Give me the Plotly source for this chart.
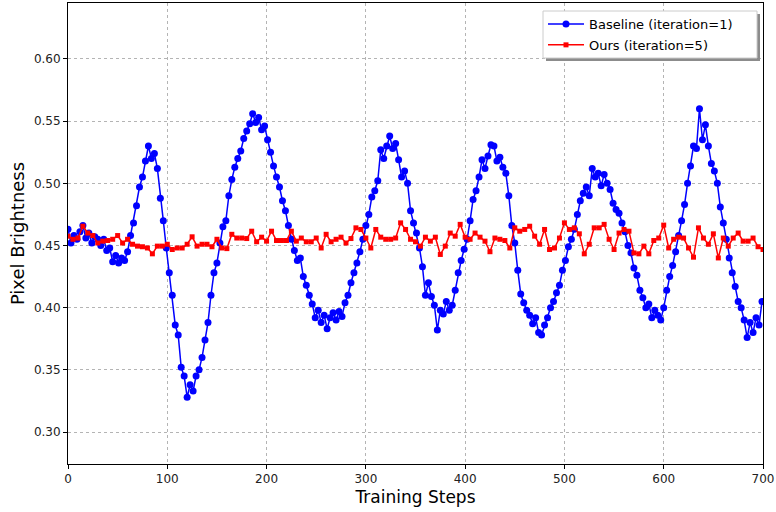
import plotly.graph_objects as go

# ---------------- data ----------------
baseline_steps = list(range(0, 700, 3))
baseline_values = [
    0.463, 0.452, 0.458, 0.455, 0.461, 0.466, 0.456, 0.460, 0.452, 0.457,
    0.455, 0.450, 0.455, 0.446, 0.448, 0.437, 0.442, 0.436, 0.440, 0.438,
    0.445, 0.458, 0.468, 0.482, 0.497, 0.505, 0.518, 0.530, 0.520, 0.524,
    0.512, 0.488, 0.470, 0.448, 0.428, 0.410, 0.386, 0.378, 0.352, 0.345,
    0.328, 0.338, 0.333, 0.345, 0.350, 0.360, 0.374, 0.388, 0.410, 0.428,
    0.436, 0.452, 0.465, 0.470, 0.490, 0.503, 0.513, 0.520, 0.526, 0.536,
    0.542, 0.548, 0.556, 0.549, 0.553, 0.543, 0.546, 0.535, 0.525, 0.514,
    0.505, 0.497, 0.486, 0.478, 0.466, 0.455, 0.446, 0.438, 0.440, 0.425,
    0.418, 0.410, 0.403, 0.392, 0.398, 0.388, 0.394, 0.383, 0.392, 0.396,
    0.390, 0.397, 0.393, 0.404, 0.410, 0.420, 0.428, 0.436, 0.445, 0.455,
    0.466, 0.475, 0.489, 0.494, 0.502, 0.527, 0.520, 0.530, 0.538, 0.528,
    0.532, 0.519, 0.505, 0.510, 0.500, 0.478, 0.468, 0.460, 0.448, 0.433,
    0.410, 0.420, 0.409, 0.402, 0.382, 0.398, 0.395, 0.405, 0.398, 0.402,
    0.414, 0.428, 0.438, 0.447, 0.455, 0.470, 0.487, 0.494, 0.505, 0.519,
    0.512, 0.522, 0.531, 0.530, 0.518, 0.521, 0.513, 0.508, 0.490, 0.466,
    0.452, 0.430, 0.411, 0.404, 0.398, 0.394, 0.387, 0.392, 0.380, 0.378,
    0.386, 0.392, 0.400, 0.405, 0.412, 0.418, 0.430, 0.438, 0.449, 0.455,
    0.463, 0.475, 0.486, 0.492, 0.497, 0.490, 0.512, 0.505, 0.508, 0.498,
    0.507, 0.500, 0.495, 0.484, 0.479, 0.476, 0.468, 0.461, 0.450, 0.444,
    0.432, 0.426, 0.414, 0.408, 0.400, 0.403, 0.392, 0.398, 0.394, 0.390,
    0.400, 0.414, 0.425, 0.434, 0.445, 0.458, 0.470, 0.483, 0.500, 0.514,
    0.530, 0.528, 0.560, 0.535, 0.547, 0.530, 0.516, 0.510, 0.500, 0.481,
    0.468, 0.455, 0.440, 0.428, 0.417, 0.405, 0.400, 0.390, 0.376, 0.388,
    0.380, 0.392, 0.386, 0.405,
]

ours_steps = list(range(0, 701, 5))
ours_values = [
    0.4575, 0.4550, 0.4560, 0.4655, 0.4600, 0.4580, 0.4520, 0.4535, 0.4540, 0.4550,
    0.4580, 0.4520, 0.4550, 0.4510, 0.4495, 0.4490, 0.4480, 0.4433, 0.4495, 0.4495,
    0.4510, 0.4468, 0.4480, 0.4480, 0.4510, 0.4570, 0.4495, 0.4510, 0.4510, 0.4490,
    0.4550, 0.4480, 0.4475, 0.4590, 0.4560, 0.4560, 0.4556, 0.4615, 0.4530, 0.4567,
    0.4535, 0.4615, 0.4540, 0.4540, 0.4540, 0.4615, 0.4535, 0.4560, 0.4530, 0.4530,
    0.4560, 0.4480, 0.4590, 0.4530, 0.4550, 0.4567, 0.4520, 0.4556, 0.4642, 0.4629,
    0.4560, 0.4480, 0.4629, 0.4567, 0.4550, 0.4550, 0.4560, 0.4682, 0.4629, 0.4550,
    0.4530, 0.4495, 0.4567, 0.4535, 0.4567, 0.4428, 0.4495, 0.4600, 0.4575, 0.4670,
    0.4567, 0.4550, 0.4600, 0.4567, 0.4535, 0.4450, 0.4560, 0.4550, 0.4540, 0.4480,
    0.4642, 0.4615, 0.4629, 0.4655, 0.4575, 0.4510, 0.4629, 0.4468, 0.4480, 0.4560,
    0.4682, 0.4629, 0.4642, 0.4594, 0.4433, 0.4510, 0.4642, 0.4642, 0.4670, 0.4550,
    0.4468, 0.4600, 0.4629, 0.4615, 0.4440, 0.4433, 0.4495, 0.4433, 0.4540, 0.4560,
    0.4664, 0.4480, 0.4550, 0.4567, 0.4560, 0.4480, 0.4406, 0.4642, 0.4560, 0.4510,
    0.4594, 0.4400, 0.4560, 0.4495, 0.4560, 0.4600, 0.4535, 0.4535, 0.4560, 0.4490,
    0.4468,
]

x_tick_values = [0, 100, 200, 300, 400, 500, 600, 700]
y_tick_values = [0.30, 0.35, 0.40, 0.45, 0.50, 0.55, 0.60]

# ---------------- figure ----------------
FONT = "DejaVu Sans"
PX_L, PX_R, PX_T, PX_B = 68, 763, 3, 464   # plot area in page pixels


def px_x(p):
    return (p - PX_L) / (PX_R - PX_L)


def px_y(p):
    return (PX_B - p) / (PX_B - PX_T)


fig = go.Figure()
fig.add_trace(go.Scatter(
    x=baseline_steps, y=baseline_values, mode="lines+markers",
    name="Baseline (iteration=1)", legendgroup="a",
    line=dict(color="#0000ff", width=1.5),
    marker=dict(symbol="circle", size=7, color="#0000ff"),
))
fig.add_trace(go.Scatter(
    x=ours_steps, y=ours_values, mode="lines+markers",
    name="Ours (iteration=5)", legendgroup="b",
    line=dict(color="#ff0000", width=1.5),
    marker=dict(symbol="square", size=5, color="#ff0000"),
))

axis_common = dict(
    showline=True, linecolor="black", linewidth=1, mirror=True,
    ticks="outside", ticklen=4, tickwidth=1, tickcolor="black",
    showgrid=True, gridcolor="#b4b4b4", gridwidth=0.6, griddash="dot",
    zeroline=False, tickfont=dict(family=FONT, size=12, color="#222222"),
)

fig.update_xaxes(
    range=[0, 700], tickvals=x_tick_values,
    title=dict(text="Training Steps", font=dict(family=FONT, size=17, color="black"), standoff=5),
    **axis_common,
)
fig.update_yaxes(
    range=[0.2743, 0.645], tickvals=y_tick_values, tickformat=".2f",
    title=dict(text="Pixel Brightness", font=dict(family=FONT, size=18, color="black"), standoff=4),
    **axis_common,
)

# legend frame with shadow (matplotlib shadow=True look)
fig.add_shape(
    type="rect", xref="paper", yref="paper",
    x0=px_x(546), x1=px_x(760), y0=px_y(61), y1=px_y(14),
    fillcolor="#8c8c8c", line=dict(width=0), layer="above",
)
fig.add_shape(
    type="rect", xref="paper", yref="paper",
    x0=px_x(543), x1=px_x(757), y0=px_y(58), y1=px_y(11),
    fillcolor="white", line=dict(color="#cccccc", width=1), layer="above",
)

fig.update_layout(
    width=776, height=512,
    margin=dict(l=PX_L, r=776 - PX_R, t=PX_T, b=512 - PX_B),
    paper_bgcolor="white", plot_bgcolor="white",
    font=dict(family=FONT, size=12, color="black"),
    showlegend=True,
    legend=dict(
        x=px_x(543), y=px_y(9), xanchor="left", yanchor="top",
        bgcolor="rgba(0,0,0,0)", borderwidth=0,
        font=dict(family=FONT, size=13, color="black"),
        tracegroupgap=1, itemwidth=36,
    ),
)

fig.write_html(
    "out.html",
    config={"displayModeBar": False},
    post_script="document.body.style.margin='0';",
)
